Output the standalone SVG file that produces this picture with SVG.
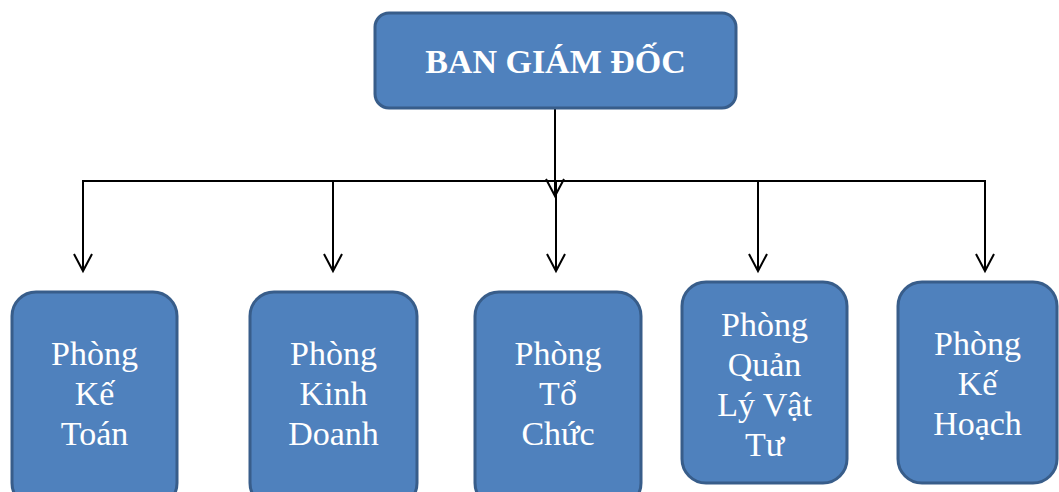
<svg xmlns="http://www.w3.org/2000/svg" width="1059" height="492" viewBox="0 0 1059 492">
<style>
.box{fill:#4f81bd;stroke:#385d8a;stroke-width:3}
.t{font-family:"Liberation Serif","Times New Roman",serif;font-size:34px;fill:#ffffff;text-anchor:middle}
.title{font-weight:bold;font-size:34px}
.c{stroke:#000;stroke-width:2;fill:none}
</style>
<defs>
<marker id="arr" markerUnits="userSpaceOnUse" markerWidth="22" markerHeight="24" viewBox="-19 -12 22 24" refX="0" refY="0" orient="auto-start-reverse" overflow="visible">
<path d="M-17,-9 L0,0 L-17,9" fill="none" stroke="#000" stroke-width="2"/>
</marker>
</defs>
<rect width="1059" height="492" fill="#fff"/>
<g id="connectors">
<line class="c" x1="555" y1="108" x2="555" y2="196" marker-end="url(#arr)"/>
<polyline class="c" points="83,271 83,181 985,181 985,271" marker-end="url(#arr)" marker-start="url(#arr)"/>
<line class="c" x1="333" y1="181" x2="333" y2="271" marker-end="url(#arr)"/>
<line class="c" x1="556" y1="181" x2="556" y2="271" marker-end="url(#arr)"/>
<line class="c" x1="758" y1="181" x2="758" y2="271" marker-end="url(#arr)"/>
</g>
<g id="ban-giam-doc">
<rect class="box" x="375" y="13" width="361" height="95" rx="14"/>
<text class="t title" x="555.5" y="73">BAN GIÁM ĐỐC</text>
</g>
<g id="phong-ke-toan">
<rect class="box" x="12" y="292" width="165" height="215" rx="24"/>
<text class="t" x="94.5" y="365">Phòng</text>
<text class="t" x="94.5" y="405">Kế</text>
<text class="t" x="94.5" y="445">Toán</text>
</g>
<g id="phong-kinh-doanh">
<rect class="box" x="250" y="292" width="167" height="215" rx="24"/>
<text class="t" x="333.5" y="365">Phòng</text>
<text class="t" x="333.5" y="405">Kinh</text>
<text class="t" x="333.5" y="445">Doanh</text>
</g>
<g id="phong-to-chuc">
<rect class="box" x="475" y="292" width="166" height="215" rx="24"/>
<text class="t" x="558" y="365">Phòng</text>
<text class="t" x="558" y="405">Tổ</text>
<text class="t" x="558" y="445">Chức</text>
</g>
<g id="phong-quan-ly-vat-tu">
<rect class="box" x="682" y="282" width="165" height="201" rx="24"/>
<text class="t" x="764.5" y="336">Phòng</text>
<text class="t" x="764.5" y="376">Quản</text>
<text class="t" x="764.5" y="416">Lý Vật</text>
<text class="t" x="764.5" y="456">Tư</text>
</g>
<g id="phong-ke-hoach">
<rect class="box" x="898" y="282" width="159" height="201" rx="24"/>
<text class="t" x="977.5" y="355">Phòng</text>
<text class="t" x="977.5" y="395">Kế</text>
<text class="t" x="977.5" y="435">Hoạch</text>
</g>
</svg>
